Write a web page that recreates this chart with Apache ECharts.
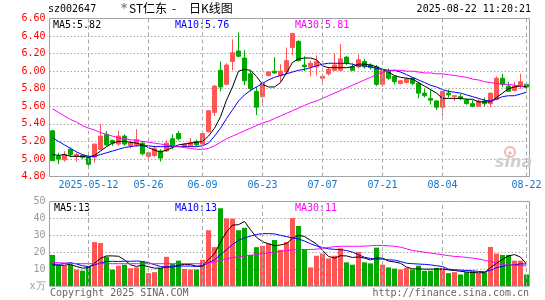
<!DOCTYPE html>
<html>
<head>
<meta charset="utf-8">
<script src="https://cdn.jsdelivr.net/npm/echarts@6/dist/echarts.min.js"></script>
<style>
html,body{margin:0;padding:0;background:#fff;}
#c{width:545px;height:300px;}
</style>
</head>
<body>
<div id="c"></div>
<script>
const dates = ['2025-04-29','2025-04-30','2025-05-06','2025-05-07','2025-05-08','2025-05-09','2025-05-12','2025-05-13','2025-05-14','2025-05-15',
'2025-05-16','2025-05-19','2025-05-20','2025-05-21','2025-05-22','2025-05-23','2025-05-26','2025-05-27','2025-05-28','2025-05-29',
'2025-05-30','2025-06-03','2025-06-04','2025-06-05','2025-06-06','2025-06-09','2025-06-10','2025-06-11','2025-06-12','2025-06-13',
'2025-06-16','2025-06-17','2025-06-18','2025-06-19','2025-06-20','2025-06-23','2025-06-24','2025-06-25','2025-06-26','2025-06-27',
'2025-06-30','2025-07-01','2025-07-02','2025-07-03','2025-07-04','2025-07-07','2025-07-08','2025-07-09','2025-07-10','2025-07-11',
'2025-07-14','2025-07-15','2025-07-16','2025-07-17','2025-07-18','2025-07-21','2025-07-22','2025-07-23','2025-07-24','2025-07-25',
'2025-07-28','2025-07-29','2025-07-30','2025-07-31','2025-08-01','2025-08-04','2025-08-05','2025-08-06','2025-08-07','2025-08-08',
'2025-08-11','2025-08-12','2025-08-13','2025-08-14','2025-08-15','2025-08-18','2025-08-19','2025-08-20','2025-08-21','2025-08-22'];

const openP = [5.32,5.03,4.99,5.11,5.03,5.04,5.02,5.02,5.11,5.28,
5.21,5.17,5.26,5.15,5.16,5.18,5.03,5.04,5.09,5.09,
5.23,5.29,5.14,5.15,5.20,5.17,5.31,5.53,6.01,5.85,
6.11,6.23,6.15,5.97,5.77,5.71,5.95,6.00,5.95,5.99,
6.27,6.34,6.07,6.05,6.05,5.92,5.97,6.01,6.01,6.16,
6.05,6.05,6.11,6.07,6.05,5.85,6.00,5.94,5.86,5.87,
5.92,5.86,5.75,5.69,5.66,5.59,5.75,5.71,5.71,5.67,
5.63,5.60,5.66,5.63,5.68,5.92,5.83,5.78,5.84,5.85];
const closeP = [4.98,5.00,5.05,5.05,5.05,5.02,4.94,5.17,5.26,5.16,
5.18,5.26,5.17,5.19,5.22,5.06,5.07,5.12,5.01,5.18,
5.14,5.23,5.17,5.19,5.16,5.29,5.55,5.83,5.82,6.07,
6.21,6.17,5.89,5.80,5.59,5.86,5.99,5.98,6.00,6.12,
6.43,6.12,6.05,6.09,6.11,5.94,6.02,6.07,6.14,6.09,
6.01,6.13,6.05,6.04,5.85,6.01,5.92,5.88,5.89,5.91,
5.86,5.75,5.72,5.67,5.59,5.77,5.73,5.72,5.69,5.63,
5.60,5.66,5.63,5.75,5.92,5.85,5.77,5.83,5.88,5.82];
const lowP = [4.98,4.94,4.97,5.02,4.97,5.00,4.89,4.96,5.10,5.15,
5.15,5.15,5.15,5.12,5.14,5.04,4.97,5.02,4.97,5.08,
5.11,5.21,5.13,5.14,5.15,5.16,5.30,5.49,5.77,5.84,
6.01,6.16,5.84,5.77,5.50,5.63,5.94,5.97,5.88,5.97,
6.18,6.11,6.00,5.94,5.95,5.88,5.95,6.01,6.01,6.07,
6.01,6.03,6.03,6.02,5.83,5.82,5.90,5.85,5.85,5.86,
5.84,5.69,5.70,5.62,5.56,5.49,5.70,5.66,5.67,5.62,
5.59,5.60,5.60,5.59,5.67,5.82,5.77,5.77,5.80,5.78];
const highP = [5.33,5.07,5.09,5.13,5.07,5.05,5.05,5.17,5.40,5.32,
5.22,5.32,5.28,5.21,5.34,5.20,5.08,5.15,5.11,5.21,
5.28,5.32,5.18,5.24,5.22,5.29,5.55,5.84,6.11,6.09,
6.36,6.44,6.24,6.01,5.82,5.88,6.00,6.16,6.08,6.27,
6.43,6.35,6.17,6.12,6.18,5.97,6.05,6.20,6.31,6.17,
6.09,6.19,6.14,6.09,6.07,6.01,6.03,5.95,5.90,5.93,
5.93,5.88,5.80,5.79,5.67,5.78,5.79,5.72,5.74,5.69,
5.67,5.68,5.70,5.75,5.94,5.97,5.88,5.88,5.97,5.87];

const ma5 = [5.05,5.04,5.05,5.03,5.03,5.03,5.02,5.04,5.09,5.14,
5.18,5.20,5.20,5.19,5.18,5.16,5.13,5.10,5.08,5.10,
5.13,5.16,5.17,5.18,5.19,5.20,5.26,5.35,5.48,5.67,
5.82,6.00,6.02,6.01,5.94,5.85,5.82,5.82,5.87,5.98,
6.10,6.14,6.15,6.15,6.13,6.06,6.04,6.04,6.04,6.04,
6.05,6.08,6.08,6.07,6.05,6.02,5.99,5.95,5.93,5.92,
5.91,5.87,5.83,5.79,5.75,5.69,5.69,5.69,5.69,5.68,
5.68,5.65,5.65,5.65,5.70,5.75,5.80,5.82,5.83,5.82];
const ma10 = [5.24,5.20,5.16,5.12,5.08,5.05,5.03,5.03,5.05,5.07,
5.09,5.11,5.13,5.14,5.15,5.15,5.15,5.14,5.14,5.14,
5.14,5.14,5.14,5.14,5.14,5.15,5.18,5.26,5.35,5.46,
5.56,5.66,5.73,5.78,5.82,5.86,5.90,5.93,5.95,5.97,
5.99,6.01,6.02,6.04,6.06,6.08,6.09,6.09,6.09,6.09,
6.08,6.06,6.06,6.05,6.03,6.02,6.01,6.01,5.99,5.96,
5.93,5.90,5.87,5.84,5.82,5.79,5.77,5.76,5.75,5.73,
5.71,5.69,5.67,5.66,5.68,5.71,5.72,5.72,5.74,5.76];
const ma30 = [5.57,5.53,5.49,5.45,5.42,5.38,5.35,5.33,5.30,5.28,
5.26,5.24,5.23,5.22,5.21,5.20,5.19,5.18,5.17,5.16,
5.15,5.14,5.13,5.12,5.11,5.11,5.12,5.15,5.19,5.23,
5.26,5.29,5.32,5.35,5.38,5.41,5.43,5.46,5.49,5.52,
5.55,5.58,5.61,5.64,5.66,5.69,5.72,5.75,5.78,5.81,
5.84,5.87,5.90,5.93,5.96,5.99,6.00,6.01,6.01,6.00,
6.00,5.99,5.98,5.98,5.97,5.97,5.96,5.95,5.94,5.93,
5.91,5.90,5.88,5.87,5.86,5.85,5.85,5.84,5.83,5.81];

const volume = [18.4,12.0,12.0,12.6,9.7,9.1,11.5,26.0,25.4,17.3,
9.7,12.0,12.6,10.5,11.0,14.5,7.6,8.2,10.7,17.3,
13.0,15.0,10.1,9.7,9.7,15.5,33.0,23.0,46.0,40.0,
39.8,33.0,34.4,18.4,23.0,23.7,25.2,27.2,21.4,26.0,
40.2,35.5,21.7,11.0,17.9,19.2,16.3,17.9,22.3,14.0,
12.6,20.2,14.0,13.4,22.7,12.6,11.0,10.3,9.7,10.7,
9.7,12.0,9.0,9.1,10.7,10.7,7.6,8.2,6.8,8.2,
8.7,7.6,8.2,23.1,19.2,18.4,18.4,15.0,15.0,6.8];
const vma5 = [12.5,12.2,12.3,12.8,11.5,10.6,10.8,13.5,16.3,17.8,
17.8,17.6,15.5,12.5,11.6,12.3,11.4,10.6,10.5,11.2,
11.3,12.3,12.8,12.7,11.7,11.8,15.7,19.0,26.0,32.0,
36.0,36.3,38.2,33.3,28.8,26.2,25.0,23.8,24.3,25.1,
28.2,30.0,29.3,27.0,24.9,21.1,17.5,16.5,17.9,17.8,
16.9,17.2,16.5,15.4,16.6,16.5,14.8,14.2,13.5,11.2,
10.2,10.1,10.0,10.0,10.0,10.0,9.5,9.2,8.7,8.3,
8.0,7.8,7.9,10.9,13.5,15.8,17.8,18.6,17.1,13.0];
const vma10 = [13.0,12.8,13.3,13.8,13.0,12.0,11.5,12.5,13.6,14.5,
14.6,14.5,14.7,14.6,14.8,14.5,13.8,12.6,11.5,11.3,
11.5,11.8,11.8,11.8,11.6,12.0,13.8,15.5,18.5,21.5,
24.5,27.0,28.5,29.5,30.5,31.0,31.0,30.8,30.0,29.2,
28.5,27.8,26.6,25.0,23.7,22.8,22.0,21.7,21.5,21.0,
20.0,18.5,17.0,16.3,15.9,15.9,15.5,15.3,14.5,13.5,
13.2,13.0,12.8,12.5,12.0,11.5,10.0,9.6,9.4,9.2,
9.0,8.6,8.4,9.3,10.8,11.7,12.2,12.6,13.1,13.0];
const vma30 = [14.0,13.8,13.6,13.4,13.3,13.2,13.2,13.2,13.2,13.2,
13.2,13.2,13.2,13.2,13.2,13.2,13.2,13.2,13.2,13.2,
13.2,13.2,13.2,13.2,13.2,13.2,13.6,14.3,15.2,16.0,
16.8,17.3,17.8,18.2,18.6,19.2,19.6,20.1,20.5,21.0,
21.3,21.5,21.6,21.6,21.8,22.2,22.8,23.3,23.5,23.5,
23.5,23.5,23.6,23.8,24.0,24.0,23.8,23.5,23.0,22.0,
21.0,20.5,20.0,19.5,19.0,18.5,18.0,17.5,17.3,16.9,
16.5,16.0,15.2,14.6,13.5,12.6,12.4,12.3,12.1,11.8];

const tickDates = ['2025-05-12','2025-05-26','2025-06-09','2025-06-23','2025-07-07','2025-07-21','2025-08-04','2025-08-22'];
const tickLabels = ['2025-05-12','05-26','06-09','06-23','07-07','07-21','08-04','08-22'];
const legendMA5 = 'MA5:' + ma5[ma5.length-1].toFixed(2);
const legendMA10 = 'MA10:' + ma10[ma10.length-1].toFixed(2);
const legendMA30 = 'MA30:' + ma30[ma30.length-1].toFixed(2);
const vLegendMA5 = 'MA5:13';
const vLegendMA10 = 'MA10:13';
const vLegendMA30 = 'MA30:11';

const UP = '#ff5555', DOWN = '#00a800';
const MONO = 'DejaVu Sans Mono';

const kData = dates.map((d, i) => [openP[i], closeP[i], lowP[i], highP[i]]);
const volData = volume.map((v, i) => ({
  value: v,
  itemStyle: { color: closeP[i] >= openP[i] ? UP : DOWN }
}));
const vLines = tickDates.map(d => ({ xAxis: d }));
const markLineCfg = {
  silent: true, symbol: ['none', 'none'], label: { show: false },
  lineStyle: { color: '#a8a8a8', type: [4, 3], width: 1 },
  data: vLines, animation: false
};

const chart = echarts.init(document.getElementById('c'), null, { renderer: 'canvas' });
const lineS = (name, data, color, xi, yi) => ({
  name, type: 'line', data, xAxisIndex: xi, yAxisIndex: yi,
  showSymbol: false, symbol: 'none', smooth: false,
  lineStyle: { color, width: 1 }, itemStyle: { color }, z: 3
});

chart.setOption({
  animation: false,
  backgroundColor: '#fff',
  grid: [
    { left: 49.5, top: 18.5, width: 480, height: 158, show: true, borderColor: '#a0a0a0', borderWidth: 1 },
    { left: 49.5, top: 201.5, width: 480, height: 84.5, show: true, borderColor: '#a0a0a0', borderWidth: 1 }
  ],
  xAxis: [
    { type: 'category', data: dates, gridIndex: 0, boundaryGap: true,
      axisLine: { show: false }, axisTick: { show: false }, splitLine: { show: false },
      axisLabel: {
        interval: (idx, val) => tickDates.indexOf(val) >= 0,
        formatter: (val) => { const k = tickDates.indexOf(val); return k >= 0 ? tickLabels[k] : ''; },
        color: '#1177cc', fontFamily: MONO, fontSize: 10, margin: 4
      } },
    { type: 'category', data: dates, gridIndex: 1, boundaryGap: true,
      axisLine: { show: false }, axisTick: { show: false }, splitLine: { show: false },
      axisLabel: { show: false } }
  ],
  yAxis: [
    { type: 'value', gridIndex: 0, min: 4.8, max: 6.6, interval: 0.2,
      axisLine: { show: false }, axisTick: { show: false },
      axisLabel: { color: '#ff0000', fontFamily: MONO, fontSize: 10, margin: 4,
        formatter: v => v.toFixed(2) },
      splitLine: { show: true, lineStyle: { color: '#a8a8a8', type: [1.5, 2], width: 1 } } },
    { type: 'value', gridIndex: 1, min: 0, max: 50, interval: 10,
      axisLine: { show: false }, axisTick: { show: false },
      axisLabel: { color: '#999999', fontFamily: MONO, fontSize: 10, margin: 4,
        formatter: v => v === 0 ? 'x万' : String(v) },
      splitLine: { show: true, lineStyle: { color: '#a8a8a8', type: [1.5, 2], width: 1 } } }
  ],
  series: [
    { name: 'K', type: 'candlestick', data: kData, xAxisIndex: 0, yAxisIndex: 0,
      barWidth: 4,
      itemStyle: { color: UP, color0: DOWN, borderColor: UP, borderColor0: DOWN, borderWidth: 1 },
      markLine: markLineCfg, z: 2 },
    lineS('MA5', ma5, '#000000', 0, 0),
    lineS('MA10', ma10, '#0000ff', 0, 0),
    lineS('MA30', ma30, '#ff00ff', 0, 0),
    { name: 'VOL', type: 'bar', data: volData, xAxisIndex: 1, yAxisIndex: 1,
      barWidth: 5, markLine: markLineCfg, z: 2 },
    lineS('VMA5', vma5, '#000000', 1, 1),
    lineS('VMA10', vma10, '#0000ff', 1, 1),
    lineS('VMA30', vma30, '#ff00ff', 1, 1)
  ],
  graphic: [
    { type: 'text', left: 48, top: 4, style: { text: 'sz002647', font: '10px "DejaVu Sans Mono"', fill: '#000' } },
    { type: 'text', left: 121, top: 3, style: { text: '*', font: 'bold 12px "DejaVu Sans"', fill: '#888' } },
    { type: 'text', left: 129, top: 2, style: { text: 'ST仁东', font: '12px "Noto Sans CJK SC"', fill: '#000' } },
    { type: 'text', left: 172, top: 2, style: { text: '-', font: '12px "Noto Sans CJK SC"', fill: '#000' } },
    { type: 'text', left: 189, top: 2, style: { text: '日K线图', font: '12px "Noto Sans CJK SC"', fill: '#000' } },
    { type: 'text', right: 14, top: 4, style: { text: '2025-08-22 11:20:21', font: '10px "DejaVu Sans Mono"', fill: '#000' } },
    { type: 'text', left: 53, top: 20, style: { text: legendMA5, font: '10px "DejaVu Sans Mono"', fill: '#000' } },
    { type: 'text', left: 175, top: 20, style: { text: legendMA10, font: '10px "DejaVu Sans Mono"', fill: '#0000ff' } },
    { type: 'text', left: 295, top: 20, style: { text: legendMA30, font: '10px "DejaVu Sans Mono"', fill: '#ff00ff' } },
    { type: 'text', left: 54, top: 203, style: { text: vLegendMA5, font: '10px "DejaVu Sans Mono"', fill: '#000' } },
    { type: 'text', left: 175, top: 203, style: { text: vLegendMA10, font: '10px "DejaVu Sans Mono"', fill: '#0000ff' } },
    { type: 'text', left: 295, top: 203, style: { text: vLegendMA30, font: '10px "DejaVu Sans Mono"', fill: '#ff00ff' } },
    { type: 'text', left: 50, top: 288, style: { text: 'Copyright 2025 SINA.COM', font: '10px "DejaVu Sans Mono"', fill: '#666' } },
    { type: 'text', right: 16, top: 288, style: { text: 'http://finance.sina.com.cn', font: '10px "DejaVu Sans Mono"', fill: '#666' } },
    { type: 'circle', shape: { cx: 510, cy: 152, r: 5 }, style: { fill: 'none', stroke: '#f2b8b8', lineWidth: 2 }, z: 1 },
    { type: 'circle', shape: { cx: 510, cy: 153, r: 1.8 }, style: { fill: '#f2b8b8' }, z: 1 },
    { type: 'text', left: 495, top: 155, style: { text: 'sina', font: 'italic bold 16px "DejaVu Sans"', fill: '#cfcfcf' }, z: 1 }
  ]
});
</script>
</body>
</html>
